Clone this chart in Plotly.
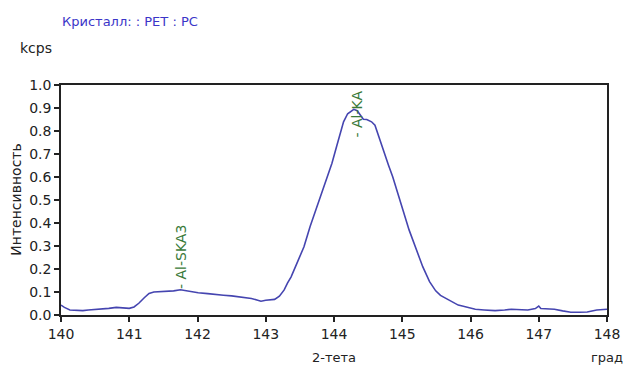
import plotly.graph_objects as go

two_theta = [140.00, 140.05, 140.13, 140.32, 140.40, 140.57, 140.70, 140.81, 140.90, 141.00,
             141.07, 141.14, 141.22, 141.29, 141.36, 141.43, 141.50, 141.58, 141.65, 141.75,
             141.85, 142.01, 142.15, 142.26, 142.38, 142.50, 142.65, 142.79, 142.87, 142.93,
             143.00, 143.13, 143.20, 143.27, 143.32, 143.37, 143.45, 143.56, 143.65, 143.75,
             143.85, 143.92, 143.97, 144.04, 144.10, 144.14, 144.20, 144.29, 144.34, 144.40,
             144.43, 144.48, 144.55, 144.60, 144.67, 144.74, 144.80, 144.86, 144.93, 145.01,
             145.10, 145.20, 145.30, 145.40, 145.49, 145.56, 145.64, 145.75, 145.82, 145.88,
             145.95, 146.07, 146.20, 146.36, 146.50, 146.60, 146.75, 146.84, 146.95, 147.00,
             147.03, 147.15, 147.23, 147.35, 147.47, 147.60, 147.71, 147.85, 148.00]
intensity = [0.043, 0.033, 0.022, 0.019, 0.022, 0.025, 0.029, 0.033, 0.030, 0.029,
             0.035, 0.051, 0.075, 0.094, 0.100, 0.101, 0.104, 0.106, 0.105, 0.110,
             0.104, 0.097, 0.093, 0.091, 0.086, 0.083, 0.077, 0.072, 0.065, 0.060,
             0.064, 0.068, 0.082, 0.109, 0.140, 0.165, 0.220, 0.297, 0.385, 0.471,
             0.550, 0.610, 0.660, 0.735, 0.800, 0.840, 0.875, 0.894, 0.888, 0.862,
             0.851, 0.850, 0.840, 0.825, 0.761, 0.696, 0.650, 0.601, 0.530, 0.457,
             0.370, 0.290, 0.210, 0.145, 0.105, 0.085, 0.072, 0.055, 0.043, 0.039,
             0.035, 0.025, 0.022, 0.019, 0.022, 0.025, 0.023, 0.022, 0.028, 0.039,
             0.028, 0.026, 0.025, 0.018, 0.012, 0.012, 0.013, 0.022, 0.025]

peak_labels = ["- Al-SKA3", "- Al-KA"]
peak_x = [141.76, 144.33]
peak_y = [0.105, 0.985]
peak_anchor = ["bottom", "top"]

x_ticks = [140, 141, 142, 143, 144, 145, 146, 147, 148]
y_ticks = [0.0, 0.1, 0.2, 0.3, 0.4, 0.5, 0.6, 0.7, 0.8, 0.9, 1.0]

font = "DejaVu Sans"

fig = go.Figure()
fig.add_trace(go.Scatter(x=two_theta, y=intensity, mode="lines",
                         line=dict(color="#4545b0", width=1.6), hoverinfo="skip"))

for t, xv, yv, ya in zip(peak_labels, peak_x, peak_y, peak_anchor):
    fig.add_annotation(x=xv, y=yv, xref="x", yref="y", text=t, textangle=-90,
                       showarrow=False, xanchor="center", yanchor=ya,
                       font=dict(family=font, size=14, color="#3a7a3a"))

axis_common = dict(showline=True, linecolor="#222", linewidth=1.5, mirror=True,
                   ticks="outside", ticklen=5, tickcolor="#222", tickwidth=1.5,
                   showgrid=False, zeroline=False,
                   tickfont=dict(family=font, size=14, color="#222"))

fig.update_xaxes(range=[140, 148], tickvals=x_ticks,
                 ticktext=[str(v) for v in x_ticks], **axis_common)
fig.update_yaxes(range=[0, 1.0], tickvals=y_ticks,
                 ticktext=[f"{v:.1f}" for v in y_ticks], **axis_common)

fig.add_annotation(x=-0.002, y=1.274, xref="paper", yref="paper", text="Кристалл: : PET : PC",
                   showarrow=False, xanchor="left", yanchor="middle",
                   font=dict(family=font, size=13, color="#3b35c8"))
fig.add_annotation(x=-0.078, y=1.161, xref="paper", yref="paper", text="kcps",
                   showarrow=False, xanchor="left", yanchor="middle",
                   font=dict(family=font, size=14, color="#222"))
fig.add_annotation(x=-0.083, y=0.5, xref="paper", yref="paper", text="Интенсивность",
                   showarrow=False, xanchor="center", yanchor="middle", textangle=-90,
                   font=dict(family=font, size=14, color="#222"))
fig.add_annotation(x=(313 - 61) / 552, y=-0.183, xref="paper", yref="paper", text="2-тета",
                   showarrow=False, xanchor="left", yanchor="middle",
                   font=dict(family=font, size=13, color="#222"))
fig.add_annotation(x=(631 - 61) / 552, y=-0.183, xref="paper", yref="paper", text="град",
                   showarrow=False, xanchor="right", yanchor="middle",
                   font=dict(family=font, size=13, color="#222"))

# page body has an 8px default margin, so the figure is 8px smaller
fig.update_layout(width=624, height=359, margin=dict(l=53, r=19, t=77, b=52),
                  paper_bgcolor="white", plot_bgcolor="white", showlegend=False)

fig.write_html("out.html")
